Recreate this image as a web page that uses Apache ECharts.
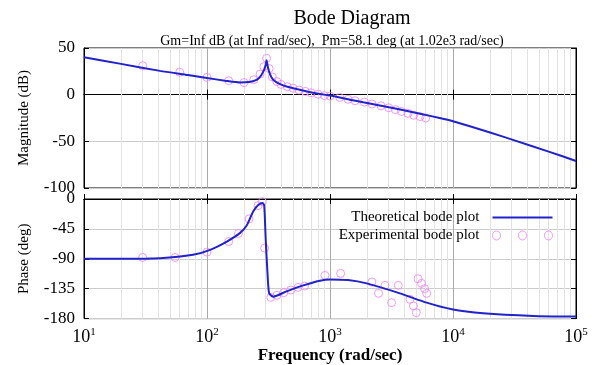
<!DOCTYPE html>
<html>
<head>
<meta charset="utf-8">
<script src="https://cdn.jsdelivr.net/npm/echarts@6/dist/echarts.min.js"></script>
<style>
  html, body { margin: 0; padding: 0; background: #fff; }
  #chart { width: 592px; height: 365px; }
</style>
</head>
<body>
<div id="chart"></div>
<script>
// [frequency rad/s, value] pairs
const theoMag = [
  [10, 40], [20, 33], [41.5, 25.5], [70, 21], [100, 17.8], [140, 15], [186, 13],
  [220, 13.5], [250, 15.5], [270, 19], [290, 26], [300, 32], [305, 37], [312, 30],
  [325, 22], [345, 16], [392, 11.4], [450, 8.5], [536, 6], [650, 3.5], [830, 0.7],
  [1000, -1], [1200, -3], [1860, -8.2], [3480, -15.2], [5400, -20.5], [7800, -25],
  [10000, -28.5], [20000, -40.5], [31600, -49], [60000, -61], [100000, -71]
];
const expMag = [
  [30, 31], [60, 24], [100, 18.5], [150, 15], [200, 13], [240, 16], [270, 22],
  [290, 30], [305, 39], [320, 28], [340, 19], [370, 14], [400, 11], [450, 8.5],
  [500, 7], [560, 5], [630, 3.5], [700, 2], [800, 0.5], [900, -1], [1000, -1.5],
  [1200, -3], [1400, -5], [1600, -6.5], [1900, -8], [2200, -10], [2600, -12],
  [3000, -14], [3400, -16], [3800, -18], [4300, -20], [4800, -22], [5400, -23.5],
  [6000, -25]
];
const theoPhase = [
  [10, -90], [20, -90], [41.5, -89], [77, -84], [106, -76.5], [145, -64], [186, -51],
  [210, -40], [238, -18.4], [261, -9], [284, -6], [292, -10], [300, -60], [310, -110],
  [320, -142], [346, -147], [444, -139], [607, -130], [828, -123], [1000, -121],
  [1400, -122], [1986, -127], [3707, -142], [6110, -156], [9780, -166], [17600, -172],
  [45000, -176], [100000, -177]
];
const expPhase = [
  [30, -88], [55, -88], [100, -80], [150, -64], [180, -52], [220, -30], [260, -10],
  [282, -4], [294, -74], [330, -148], [370, -145], [420, -141], [480, -137],
  [550, -133], [620, -131], [910, -115], [1220, -112], [2190, -125], [2480, -142],
  [2800, -130], [3170, -156], [3590, -130], [4470, -151], [4770, -161], [5030, -171],
  [5200, -120], [5550, -127], [5880, -135], [6110, -142]
];
const magTicks = { min: -100, max: 50, interval: 50 };
const phaseTicks = { min: -180, max: 0, interval: 45 };
const decades = [10, 100, 1000, 10000];

const serif = 'Liberation Serif';
const blue = '#2222cc';
const pink = '#f080f0';

// minor grid lines at 2..9 of each decade
const minorGrid = [];
decades.forEach(d => { for (let k = 2; k <= 9; k++) minorGrid.push({ xAxis: d * k }); });

const chart = echarts.init(document.getElementById('chart'));

function xAx(gridIndex, position, showLabels) {
  return {
    type: 'log', logBase: 10, gridIndex, position, min: 10, max: 100000,
    axisLine: { show: true, lineStyle: { color: '#000' } },
    axisTick: { inside: true, length: 5, lineStyle: { color: '#000' } },
    splitLine: { show: position === 'bottom', lineStyle: { color: '#aaa' } },
    axisLabel: showLabels ? {
      margin: 8,
      formatter: v => '{b|10}{e|' + Math.round(Math.log10(v)) + '}',
      rich: {
        b: { fontFamily: serif, fontSize: 18, color: '#000' },
        e: { fontFamily: serif, fontSize: 11, color: '#000', padding: [0, 0, 10, 0] }
      }
    } : { show: false },
    name: showLabels ? 'Frequency (rad/sec)' : '',
    nameLocation: 'middle', nameGap: 26,
    nameTextStyle: { fontFamily: serif, fontSize: 17, fontWeight: 'bold', color: '#000' }
  };
}

function yAx(gridIndex, ticks, name, position) {
  const left = position === 'left';
  return {
    type: 'value', gridIndex, position, min: ticks.min, max: ticks.max, interval: ticks.interval,
    axisLine: { show: true, lineStyle: { color: '#000' } },
    axisTick: { show: true, inside: true, length: 5, lineStyle: { color: '#000' } },
    splitLine: { show: left, lineStyle: { color: '#ccc' } },
    axisLabel: left ? { fontFamily: serif, fontSize: 17, color: '#000', margin: 9 } : { show: false },
    name: left ? name : '', nameLocation: 'middle', nameGap: 52,
    nameTextStyle: { fontFamily: serif, fontSize: 15, color: '#000' }
  };
}

const ring = 'a4,4.5 0 1,0 8,0a4,4.5 0 1,0 -8,0Z';

const option = {
  backgroundColor: '#fff',
  animation: false,
  title: [
    { text: 'Bode Diagram', left: 347, top: 4, textAlign: 'center',
      textStyle: { fontFamily: serif, fontSize: 20, fontWeight: 'normal', color: '#000' } },
    { text: 'Gm=Inf dB (at Inf rad/sec),  Pm=58.1 deg (at 1.02e3 rad/sec)', left: 327, top: 29, textAlign: 'center',
      textStyle: { fontFamily: serif, fontSize: 14, fontWeight: 'normal', color: '#000' } }
  ],
  legend: {
    orient: 'vertical', right: 34, top: 205, align: 'right', itemGap: 3,
    itemWidth: 60, itemHeight: 9,
    textStyle: { fontFamily: serif, fontSize: 15, color: '#000', padding: [0, 8, 0, 0] },
    data: [
      { name: 'Theoretical bode plot', icon: 'path://M0,3.5H60V5.5H0Z',
        itemStyle: { color: blue, borderWidth: 0 } },
      { name: 'Experimental bode plot',
        icon: 'path://M0,4.5' + ring + 'M26,4.5' + ring + 'M52,4.5' + ring,
        itemStyle: { color: 'transparent', borderColor: pink, borderWidth: 1 } }
    ]
  },
  grid: [
    { left: 84, top: 48, width: 492, height: 140, show: true, borderColor: '#000', borderWidth: 1 },
    { left: 84, top: 199, width: 492, height: 124, show: true, borderColor: '#000', borderWidth: 1 }
  ],
  xAxis: [xAx(0, 'bottom', false), xAx(0, 'top', false), xAx(1, 'bottom', true), xAx(1, 'top', false)],
  yAxis: [
    yAx(0, magTicks, 'Magnitude (dB)', 'left'), yAx(0, magTicks, '', 'right'),
    yAx(1, phaseTicks, 'Phase (deg)', 'left'), yAx(1, phaseTicks, '', 'right')
  ],
  series: [
    { name: 'Experimental bode plot', type: 'scatter', xAxisIndex: 0, yAxisIndex: 0, data: expMag,
      symbol: 'circle', symbolSize: 8, z: 3,
      itemStyle: { color: 'transparent', borderColor: pink, borderWidth: 1 } },
    { name: 'Theoretical bode plot', type: 'line', xAxisIndex: 0, yAxisIndex: 0, data: theoMag,
      showSymbol: false, smooth: 0.2, z: 4, lineStyle: { color: blue, width: 2 }, itemStyle: { color: blue },
      markLine: { silent: true, symbol: 'none', z: 1, label: { show: false },
        lineStyle: { color: '#e2e2e2', width: 1, type: 'solid' }, data: minorGrid } },
    { name: 'Experimental bode plot', type: 'scatter', xAxisIndex: 2, yAxisIndex: 2, data: expPhase,
      symbol: 'circle', symbolSize: 8, z: 3,
      itemStyle: { color: 'transparent', borderColor: pink, borderWidth: 1 } },
    { name: 'Theoretical bode plot', type: 'line', xAxisIndex: 2, yAxisIndex: 2, data: theoPhase,
      showSymbol: false, smooth: 0.2, z: 4, lineStyle: { color: blue, width: 2 }, itemStyle: { color: blue },
      markLine: { silent: true, symbol: 'none', z: 1, label: { show: false },
        lineStyle: { color: '#e2e2e2', width: 1, type: 'solid' }, data: minorGrid } }
  ]
};

chart.setOption(option);
</script>
</body>
</html>
